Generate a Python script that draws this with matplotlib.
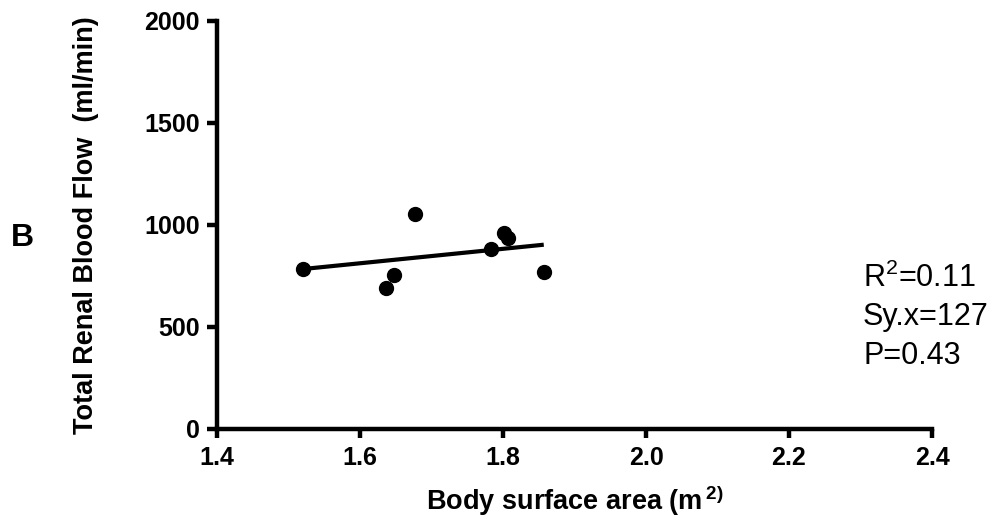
import numpy as np
import matplotlib
matplotlib.use("Agg")
import matplotlib.pyplot as plt

plt.rcParams['font.family'] = ['Liberation Sans', 'DejaVu Sans']
plt.rcParams['mathtext.fontset'] = 'custom'
plt.rcParams['mathtext.rm'] = 'Liberation Sans'
plt.rcParams['mathtext.bf'] = 'Liberation Sans:bold'
plt.rcParams['mathtext.it'] = 'Liberation Sans:italic'

# Data
bsa = [1.520, 1.647, 1.637, 1.677, 1.783, 1.801, 1.807, 1.857]
rbf = [783, 755, 690, 1054, 881, 959, 938, 768]
x_ticks = [1.4, 1.6, 1.8, 2.0, 2.2, 2.4]
x_ticklabels = ["1.4", "1.6", "1.8", "2.0", "2.2", "2.4"]
y_ticks = [0, 500, 1000, 1500, 2000]
stats_lines = [r"R$^2$=0.11", "Sy.x=127", "P=0.43"]

W, H = 1002, 522
fig = plt.figure(figsize=(W / 100, H / 100), dpi=100)
ax = fig.add_axes([217 / W, 1 - 429 / H, 715 / W, 408 / H])

x = np.array(bsa)
y = np.array(rbf)
slope, intercept = np.polyfit(x, y, 1)
xl = np.array([x.min(), x.max()])
ax.plot(xl, slope * xl + intercept, color='black', lw=3.0, zorder=2, solid_capstyle='butt')
ax.plot(x, y, 'o', color='black', ms=10, zorder=3, clip_on=False)

ax.set_xlim(1.4, 2.4)
ax.set_ylim(0, 2000)
ax.set_xticks(x_ticks)
ax.set_xticklabels(x_ticklabels)
ax.set_yticks(y_ticks)

for s in ['top', 'right']:
    ax.spines[s].set_visible(False)
for s in ['left', 'bottom']:
    ax.spines[s].set_linewidth(3.2)
    ax.spines[s].set_capstyle('projecting')
ax.tick_params(axis='x', which='major', length=6.5, width=3.2, labelsize=18, pad=6)
ax.tick_params(axis='y', which='major', length=7.5, width=3.2, labelsize=18, pad=5)
for lab in ax.get_xticklabels() + ax.get_yticklabels():
    lab.set_fontweight('bold')

ax.set_xlabel("Body surface area (m$\\,^{\\mathbf{2)}}$", fontsize=19.5, fontweight='bold')
ax.xaxis.set_label_coords(0.5, (429 - 484) / 408)
ax.set_ylabel("Total Renal Blood Flow  (ml/min)", fontsize=19.5, fontweight='bold')
ax.yaxis.set_label_coords((99 - 217) / 715, 0.5)

fig.text(22 / W, 1 - 238 / H, "B", fontsize=23, fontweight='bold', ha='center', va='center')
for i, line in enumerate(stats_lines):
    fig.text(863 / W, 1 - (287 + 38.5 * i) / H, line, fontsize=22,
             ha='left', va='baseline')

fig.savefig("out.png", dpi=100)
